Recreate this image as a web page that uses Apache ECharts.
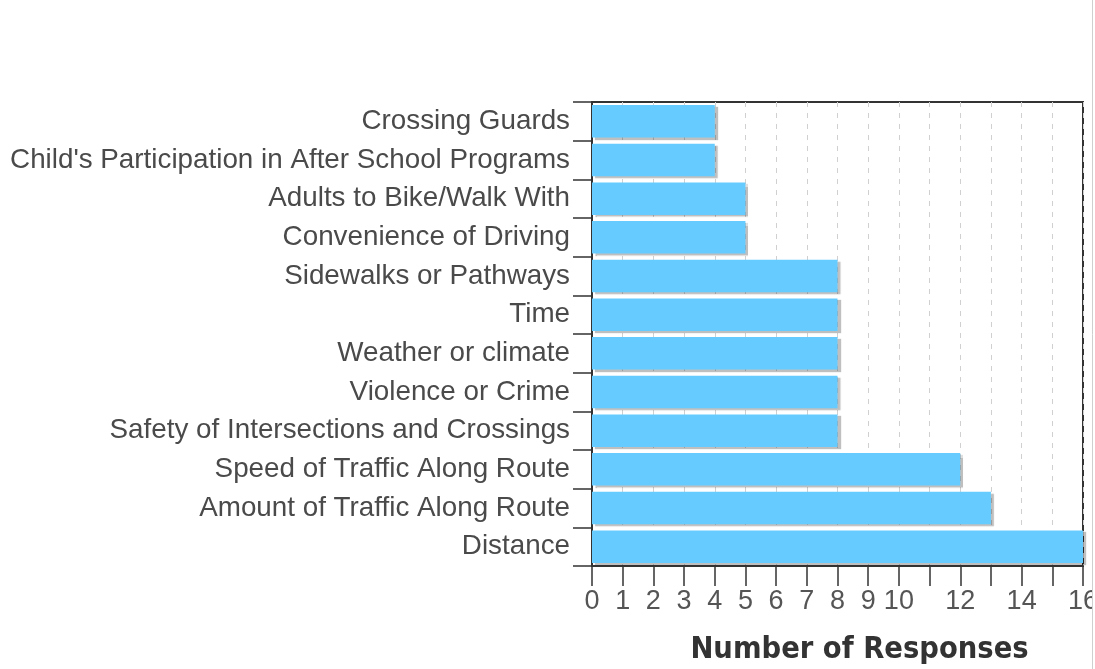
<!DOCTYPE html>
<html>
<head>
<meta charset="utf-8">
<script src="https://cdn.jsdelivr.net/npm/echarts@6/dist/echarts.min.js"></script>
<style>html,body{margin:0;padding:0;background:#fff;}#chart{width:1095px;height:669px;}</style>
</head>
<body>
<div id="chart"></div>
<script>
var categories = [
  "Crossing Guards",
  "Child's Participation in After School Programs",
  "Adults to Bike/Walk With",
  "Convenience of Driving",
  "Sidewalks or Pathways",
  "Time",
  "Weather or climate",
  "Violence or Crime",
  "Safety of Intersections and Crossings",
  "Speed of Traffic Along Route",
  "Amount of Traffic Along Route",
  "Distance"
];
var responses = [4, 4, 5, 5, 8, 8, 8, 8, 8, 12, 13, 16];
var xTickLabels = ['0','1','2','3','4','5','6','7','8','9','10','','12','','14','','16'];
var axisTitle = 'Number of Responses';

var chart = echarts.init(document.getElementById('chart'), null, {renderer: 'canvas'});
chart.setOption({
  animation: false,
  backgroundColor: '#ffffff',
  grid: {left: 592, top: 102, right: 12, bottom: 103, outerBoundsMode: 'none', containLabel: false,
         show: true, borderColor: '#333', borderWidth: 2, backgroundColor: 'transparent'},
  xAxis: {
    type: 'value', min: 0, max: 16, interval: 1,
    name: axisTitle, nameLocation: 'middle', nameGap: 69,
    nameTextStyle: {fontFamily: 'DejaVu Sans Condensed, DejaVu Sans', fontWeight: 'bold', fontSize: 30.5, color: '#333', padding: [0, 0, 0, 44]},
    axisLine: {show: true, lineStyle: {color: '#333', width: 2}},
    axisTick: {show: true, length: 20, lineStyle: {color: '#333', width: 1.5}},
    axisLabel: {
      margin: 22, fontSize: 27, color: '#555', fontFamily: 'Liberation Sans Narrow, Liberation Sans, Arial',
      formatter: function (v) { var i = Math.round(v); return xTickLabels[i] !== undefined ? xTickLabels[i] : ''; }
    },
    splitLine: {show: true, lineStyle: {color: '#d0d0d0', type: [5, 6], width: 1}}
  },
  yAxis: {
    type: 'category', data: categories, inverse: true,
    axisLine: {show: true, lineStyle: {color: '#333', width: 2}},
    axisTick: {show: true, length: 19, lineStyle: {color: '#333', width: 1.5}},
    axisLabel: {margin: 22, fontSize: 27.8, color: '#4a4a4a', fontFamily: 'Liberation Sans, Arial', padding: [0, 0, 3, 0]},
    splitLine: {show: false}
  },
  series: [{
    type: 'bar', data: responses, barCategoryGap: '16%',
    itemStyle: {color: '#66ccff', shadowColor: 'rgba(0,0,0,0.25)', shadowOffsetX: 3, shadowOffsetY: 2, shadowBlur: 1}
  }],
  graphic: [
    {type: 'rect', z: 100, shape: {x: 1093, y: 0, width: 2, height: 669}, style: {fill: '#fff'}},
    {type: 'line', z: 101, shape: {x1: 1092.5, y1: 0, x2: 1092.5, y2: 669}, style: {stroke: '#cfcfcf', lineWidth: 1}}
  ]
});
</script>
</body>
</html>
